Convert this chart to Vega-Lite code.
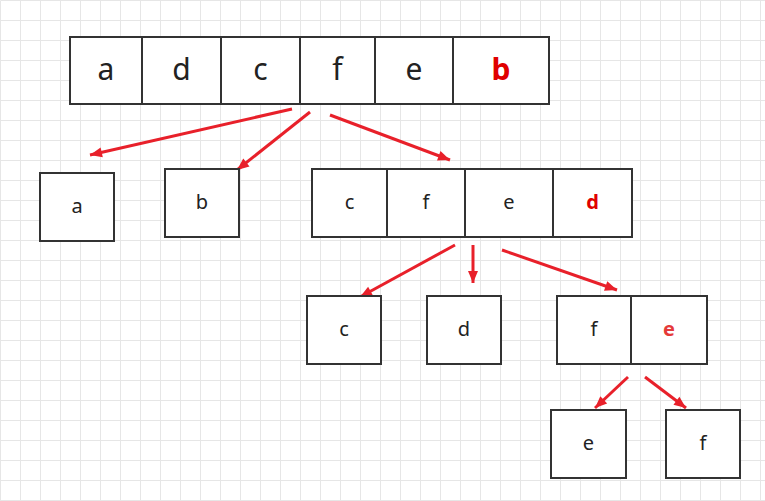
{
  "$schema": "https://vega.github.io/schema/vega-lite/v6.json",
  "autosize": {"type": "fit", "contains": "padding"},
  "width": 765,
  "height": 501,
  "padding": 0,
  "background": "#ffffff",
  "config": {"view": {"stroke": null}},
  "datasets": {
    "cells": [
      {"x": 70, "x2": 142, "y": 37, "y2": 104, "label": "a", "level": "top", "kind": "plain"},
      {"x": 142, "x2": 221, "y": 37, "y2": 104, "label": "d", "level": "top", "kind": "plain"},
      {"x": 221, "x2": 300, "y": 37, "y2": 104, "label": "c", "level": "top", "kind": "plain"},
      {"x": 300, "x2": 375, "y": 37, "y2": 104, "label": "f", "level": "top", "kind": "plain"},
      {"x": 375, "x2": 453, "y": 37, "y2": 104, "label": "e", "level": "top", "kind": "plain"},
      {"x": 453, "x2": 549, "y": 37, "y2": 104, "label": "b", "level": "top", "kind": "key"},
      {"x": 40, "x2": 114, "y": 173, "y2": 241, "label": "a", "level": "sub", "kind": "plain"},
      {"x": 165, "x2": 239, "y": 169, "y2": 237, "label": "b", "level": "sub", "kind": "plain"},
      {"x": 312, "x2": 387, "y": 169, "y2": 237, "label": "c", "level": "sub", "kind": "plain"},
      {"x": 387, "x2": 465, "y": 169, "y2": 237, "label": "f", "level": "sub", "kind": "plain"},
      {"x": 465, "x2": 553, "y": 169, "y2": 237, "label": "e", "level": "sub", "kind": "plain"},
      {"x": 553, "x2": 632, "y": 169, "y2": 237, "label": "d", "level": "sub", "kind": "key"},
      {"x": 307, "x2": 381, "y": 296, "y2": 364, "label": "c", "level": "sub", "kind": "plain"},
      {"x": 427, "x2": 501, "y": 296, "y2": 364, "label": "d", "level": "sub", "kind": "plain"},
      {"x": 557, "x2": 631, "y": 296, "y2": 364, "label": "f", "level": "sub", "kind": "plain"},
      {"x": 631, "x2": 707, "y": 296, "y2": 364, "label": "e", "level": "sub", "kind": "key2"},
      {"x": 551, "x2": 626, "y": 410, "y2": 478, "label": "e", "level": "sub", "kind": "plain"},
      {"x": 666, "x2": 740, "y": 410, "y2": 478, "label": "f", "level": "sub", "kind": "plain"}
    ],
    "arrows": [
      {"x": 292, "y": 109, "x2": 90, "y2": 155},
      {"x": 310, "y": 112, "x2": 237, "y2": 170},
      {"x": 330, "y": 115, "x2": 450, "y2": 160},
      {"x": 455, "y": 245, "x2": 360, "y2": 297},
      {"x": 473, "y": 245, "x2": 473, "y2": 283},
      {"x": 502, "y": 250, "x2": 617, "y2": 290},
      {"x": 628, "y": 377, "x2": 595, "y2": 408},
      {"x": 645, "y": 377, "x2": 686, "y2": 408}
    ]
  },
  "layer": [
    {
      "data": {"name": "arrows"},
      "mark": {"type": "rule", "strokeWidth": 3, "color": "#e8202a"},
      "encoding": {
        "x": {"field": "x", "type": "quantitative", "scale": {"domain": [0, 765], "nice": false},
          "axis": {"title": null, "labels": false, "ticks": false, "domain": false, "tickCount": 40, "grid": true, "gridColor": "#e6e6e6", "orient": "top"}},
        "y": {"field": "y", "type": "quantitative", "scale": {"domain": [0, 501], "nice": false, "reverse": true},
          "axis": {"title": null, "labels": false, "ticks": false, "domain": false, "tickCount": 26, "grid": true, "gridColor": "#e6e6e6"}},
        "x2": {"field": "x2"},
        "y2": {"field": "y2"}
      }
    },
    {
      "data": {"name": "arrows"},
      "transform": [{"calculate": "(atan2(datum.x2 - datum.x, datum.y - datum.y2) * 180 / PI + 360) % 360", "as": "ang"}],
      "mark": {"type": "point", "filled": true, "opacity": 1, "color": "#e8202a", "shape": "M0,0L0.5,1.2L-0.5,1.2Z", "size": 400},
      "encoding": {
        "x": {"field": "x2", "type": "quantitative"},
        "y": {"field": "y2", "type": "quantitative"},
        "angle": {"field": "ang", "type": "quantitative", "scale": null}
      }
    },
    {
      "data": {"name": "cells"},
      "mark": {"type": "rect", "fill": "#ffffff", "stroke": "#333333", "strokeWidth": 2},
      "encoding": {
        "x": {"field": "x", "type": "quantitative"},
        "x2": {"field": "x2"},
        "y": {"field": "y", "type": "quantitative"},
        "y2": {"field": "y2"}
      }
    },
    {
      "data": {"name": "cells"},
      "transform": [
        {"filter": "datum.kind == 'plain'"},
        {"calculate": "(datum.x + datum.x2) / 2", "as": "cx"},
        {"calculate": "(datum.y + datum.y2) / 2", "as": "cy"}
      ],
      "mark": {"type": "text", "font": "Noto Sans", "color": "#222222", "baseline": "middle", "align": "center"},
      "encoding": {
        "x": {"field": "cx", "type": "quantitative"},
        "y": {"field": "cy", "type": "quantitative"},
        "text": {"field": "label"},
        "size": {"field": "level", "type": "nominal", "scale": {"domain": ["top", "sub"], "range": [30, 20]}, "legend": null}
      }
    },
    {
      "data": {"name": "cells"},
      "transform": [
        {"filter": "datum.kind != 'plain'"},
        {"calculate": "(datum.x + datum.x2) / 2", "as": "cx"},
        {"calculate": "(datum.y + datum.y2) / 2", "as": "cy"}
      ],
      "mark": {"type": "text", "font": "Noto Sans", "fontWeight": "bold", "baseline": "middle", "align": "center"},
      "encoding": {
        "x": {"field": "cx", "type": "quantitative"},
        "y": {"field": "cy", "type": "quantitative"},
        "text": {"field": "label"},
        "size": {"field": "level", "type": "nominal", "scale": {"domain": ["top", "sub"], "range": [30, 20]}, "legend": null},
        "color": {"field": "kind", "type": "nominal", "scale": {"domain": ["key", "key2"], "range": ["#e00000", "#e53a3a"]}, "legend": null}
      }
    }
  ]
}
